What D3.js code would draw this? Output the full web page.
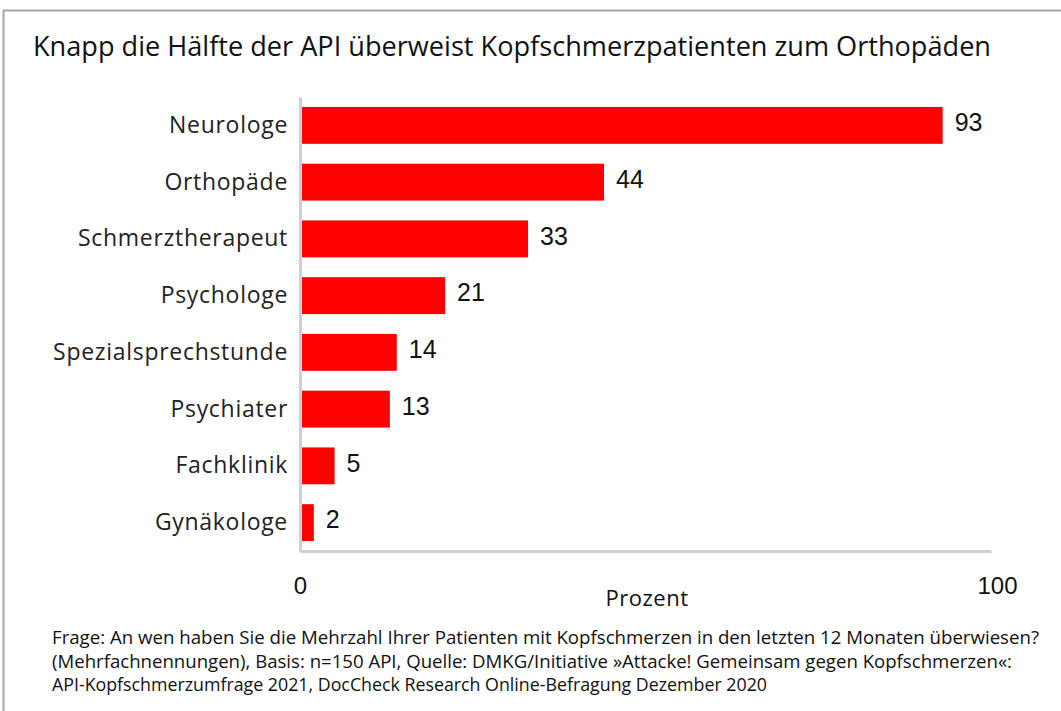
<!DOCTYPE html>
<html>
<head>
<meta charset="utf-8">
<script src="https://cdn.jsdelivr.net/npm/d3@7"></script>
<style>
  body { margin: 0; background: #fff; }
  svg { display: block; }
</style>
</head>
<body>
<svg id="chart" width="1061" height="711"></svg>
<script>
// data
var categories = ["Neurologe", "Orthopäde", "Schmerztherapeut", "Psychologe",
                  "Spezialsprechstunde", "Psychiater", "Fachklinik", "Gynäkologe"];
var values = [93, 44, 33, 21, 14, 13, 5, 2];
var xTicks = [0, 100];
var title = "Knapp die Hälfte der API überweist Kopfschmerzpatienten zum Orthopäden";
var footnote = [
  "Frage: An wen haben Sie die Mehrzahl Ihrer Patienten mit Kopfschmerzen in den letzten 12 Monaten überwiesen?",
  "(Mehrfachnennungen), Basis: n=150 API, Quelle: DMKG/Initiative »Attacke! Gemeinsam gegen Kopfschmerzen«:",
  "API-Kopfschmerzumfrage 2021, DocCheck Research Online-Befragung Dezember 2020"
];

var svg = d3.select("#chart");
var sans = "'Open Sans', 'Noto Sans', sans-serif";
var arial = "'Liberation Sans', Arial, sans-serif";

// frame
svg.append("path")
  .attr("d", "M3.5,711 L3.5,10.5 L1061,10.5")
  .attr("fill", "none")
  .attr("stroke", "#a6a6a6")
  .attr("stroke-width", 2);

svg.append("text")
  .attr("x", 33).attr("y", 56)
  .attr("textLength", 958).attr("lengthAdjust", "spacingAndGlyphs")
  .style("font-family", sans).style("font-size", "28px").attr("fill", "#111")
  .text(title);

var x = d3.scaleLinear().domain([0, 100]).range([300, 991]);
var y = d3.scaleBand().domain(categories).range([97, 551]).paddingInner(0.35).paddingOuter(0.175);

var rows = categories.map(function(c, i){ return {cat: c, val: values[i]}; });

svg.selectAll("rect.bar")
  .data(rows)
  .enter()
  .append("rect")
  .attr("class", "bar")
  .attr("x", x(0))
  .attr("y", function(d){ return y(d.cat); })
  .attr("width", function(d){ return x(d.val) - x(0); })
  .attr("height", y.bandwidth())
  .attr("fill", "#ff0000");

svg.selectAll("text.val")
  .data(rows)
  .enter()
  .append("text")
  .attr("class", "val")
  .attr("x", function(d){ return x(d.val) + 12; })
  .attr("y", function(d){ return y(d.cat) + y.bandwidth() / 2 - 3; })
  .attr("dy", "0.35em")
  .style("font-family", arial).style("font-size", "25px").attr("fill", "#111")
  .text(function(d){ return d.val; });

// y axis
var yAxis = svg.append("g")
  .attr("transform", "translate(" + x(0) + ",0)")
  .call(d3.axisLeft(y).tickSize(0).tickPadding(12));
yAxis.select(".domain").attr("stroke", "#d0d0d0").attr("stroke-width", 3);
yAxis.selectAll("text")
  .style("font-family", sans).style("font-size", "23px")
  .style("letter-spacing", "0.7px").attr("fill", "#222");

// x axis
var xAxis = svg.append("g")
  .attr("transform", "translate(0,551)")
  .call(d3.axisBottom(x).tickValues(xTicks).tickSize(0).tickPadding(26));
xAxis.select(".domain").attr("stroke", "#d0d0d0").attr("stroke-width", 3);
xAxis.selectAll("text")
  .style("font-family", arial).style("font-size", "24px").attr("fill", "#111");
xAxis.selectAll(".tick").filter(function(d){ return d === 100; })
  .select("text").attr("dx", 6);

svg.append("text")
  .attr("x", 647).attr("y", 606)
  .attr("text-anchor", "middle")
  .style("font-family", sans).style("font-size", "22px")
  .style("letter-spacing", "0.5px").attr("fill", "#111")
  .text("Prozent");

svg.selectAll("text.foot")
  .data(footnote)
  .enter()
  .append("text")
  .attr("class", "foot")
  .attr("x", 52)
  .attr("y", function(d, i){ return 644 + i * 23.5; })
  .attr("textLength", function(d, i){ return [987, 960, 715][i]; })
  .attr("lengthAdjust", "spacingAndGlyphs")
  .style("font-family", sans).style("font-size", "17.5px").attr("fill", "#111")
  .text(function(d){ return d; });
</script>
</body>
</html>
